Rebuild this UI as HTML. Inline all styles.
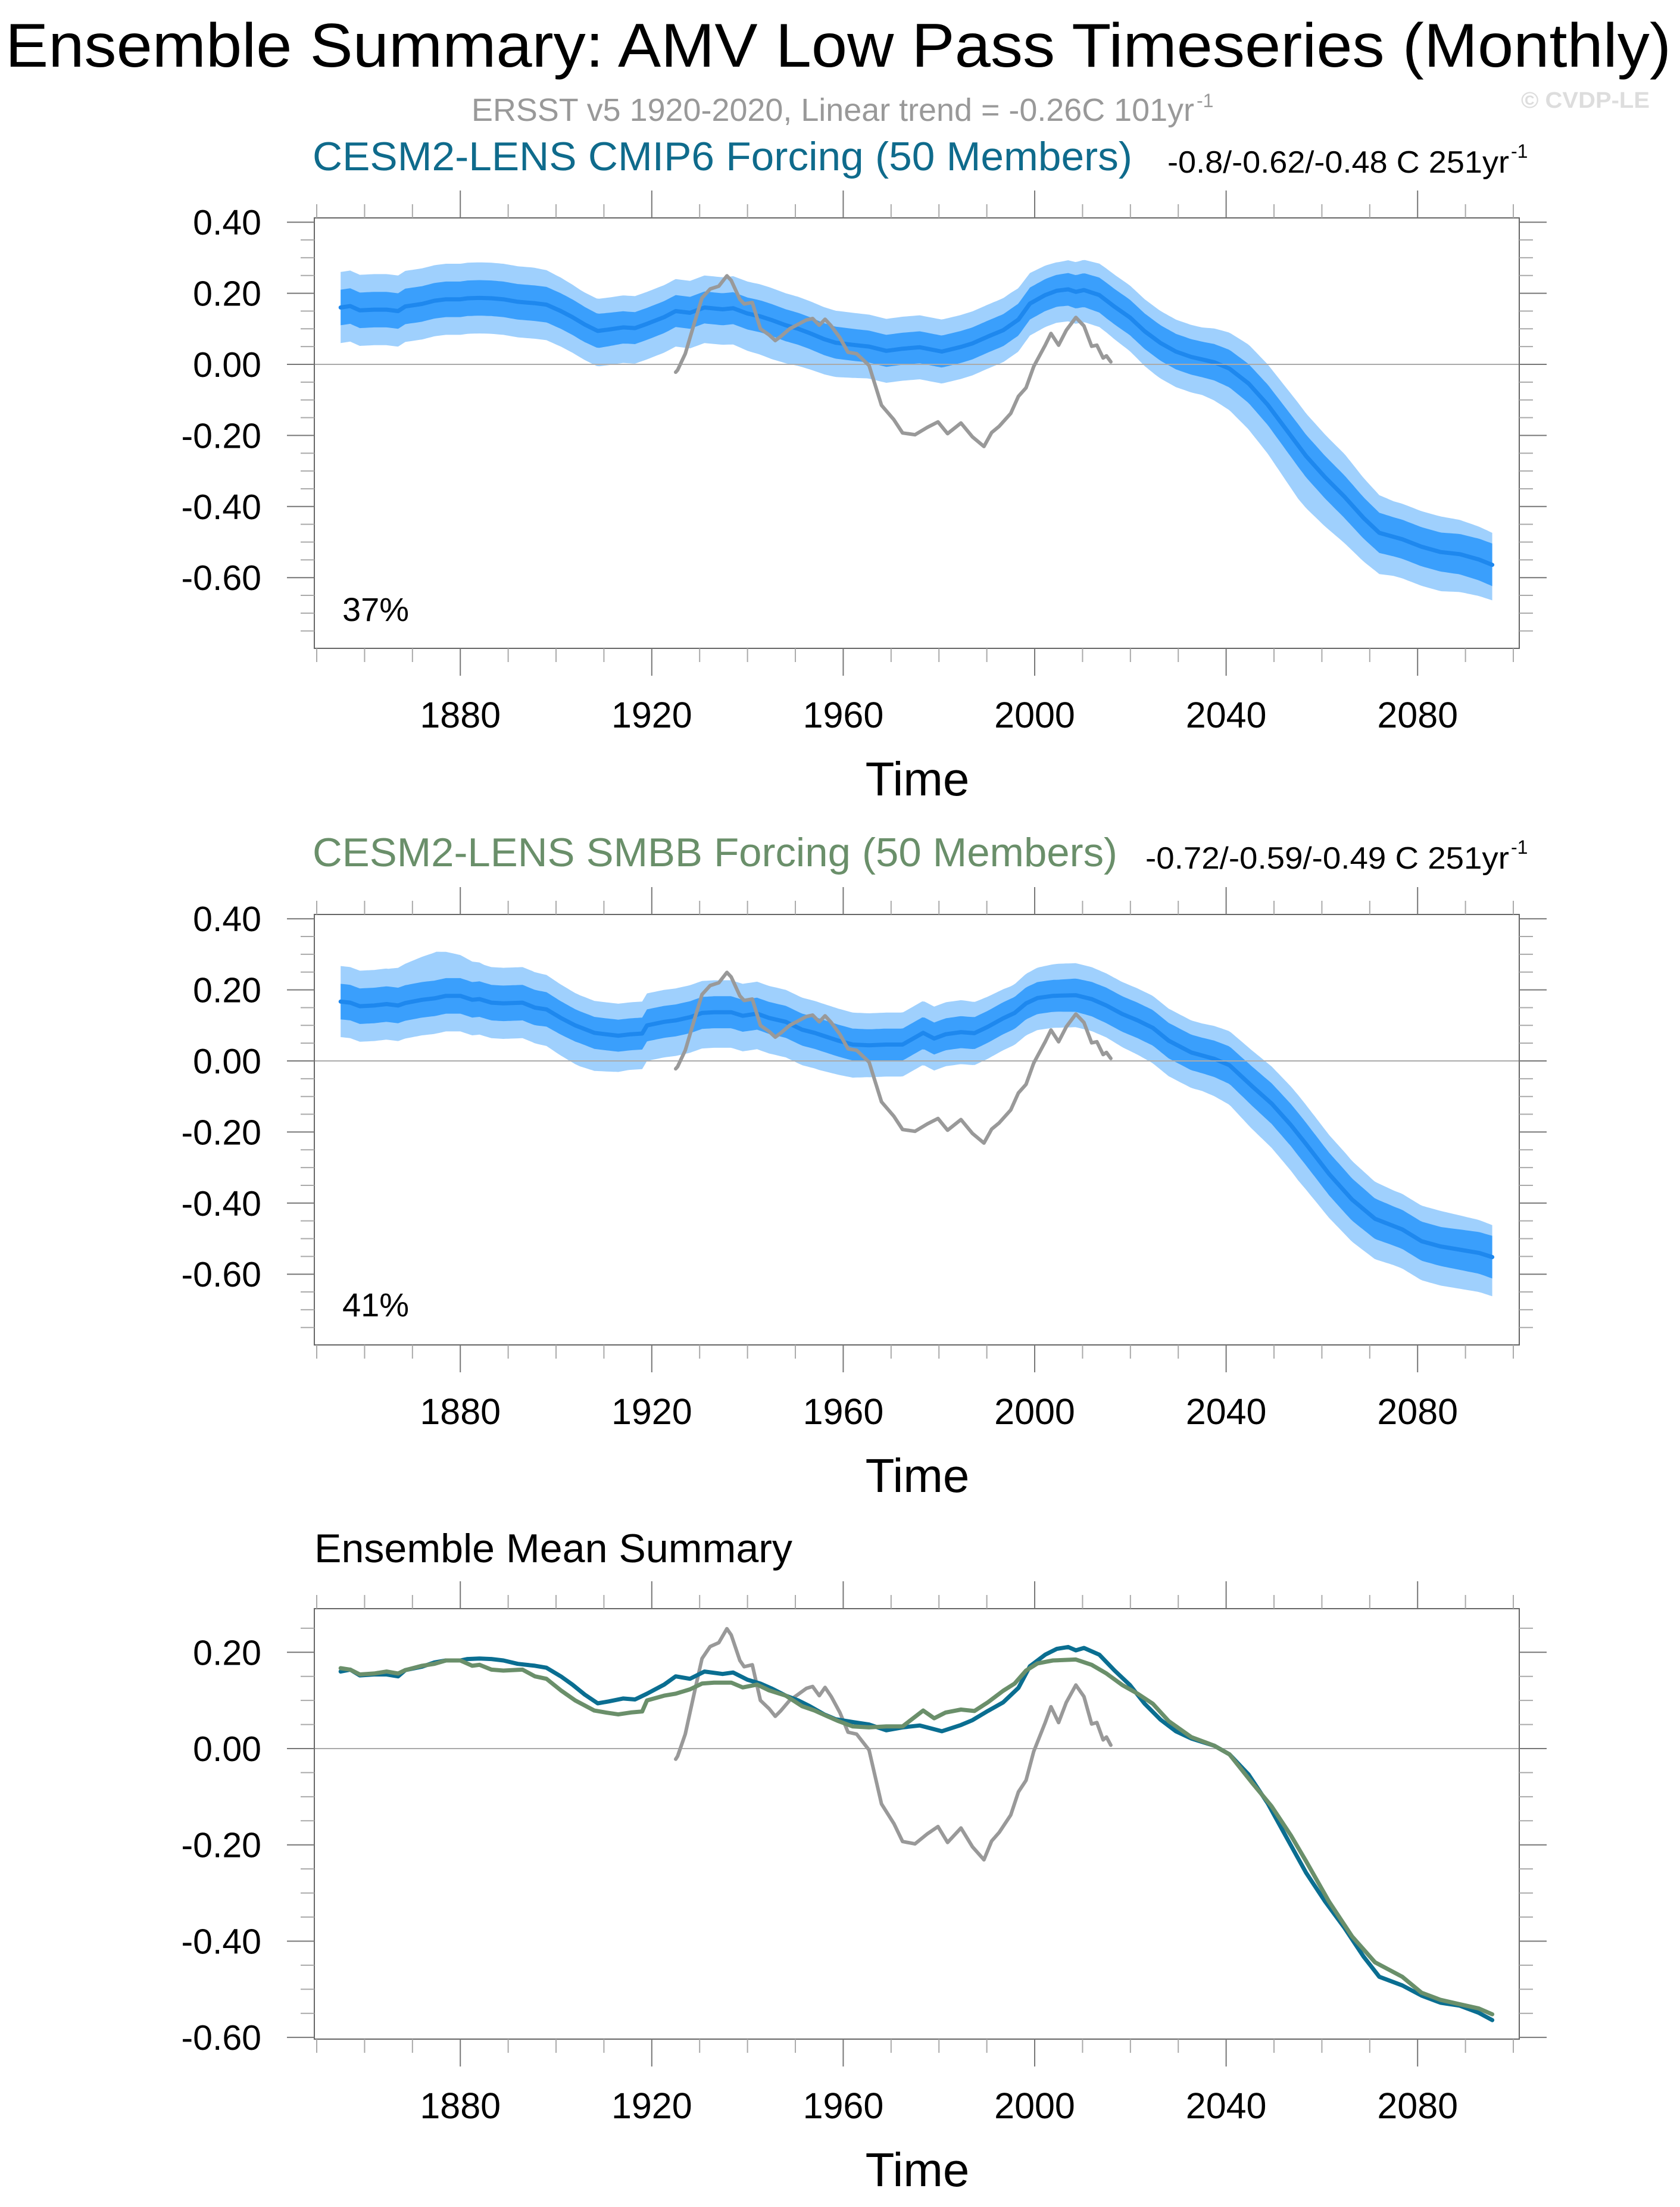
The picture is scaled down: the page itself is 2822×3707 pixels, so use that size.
<!DOCTYPE html>
<html><head><meta charset="utf-8"><style>html,body{margin:0;padding:0;background:#fff}svg{display:block}text{font-family:"Liberation Sans",Arial,sans-serif}</style></head>
<body>
<svg id="fig" width="2822" height="3707" viewBox="0 0 2822 3707" xmlns="http://www.w3.org/2000/svg">
<rect width="2822" height="3707" fill="#fff"/>
<text x="9" y="112" font-size="104" textLength="2798" lengthAdjust="spacingAndGlyphs">Ensemble Summary: AMV Low Pass Timeseries (Monthly)</text>
<text x="792" y="203" font-size="54" fill="#999" textLength="1214" lengthAdjust="spacingAndGlyphs">ERSST v5 1920-2020, Linear trend = -0.26C 101yr</text>
<text x="2010" y="180" font-size="32" fill="#999">-1</text>
<text x="2555" y="181" font-size="38" font-weight="bold" fill="#ddd" textLength="216" lengthAdjust="spacingAndGlyphs">© CVDP-LE</text>
<text x="525" y="286" font-size="68" fill="#0f6b8c" textLength="1377" lengthAdjust="spacingAndGlyphs">CESM2-LENS CMIP6 Forcing (50 Members)</text>
<text x="1961" y="290" font-size="52" textLength="574" lengthAdjust="spacingAndGlyphs">-0.8/-0.62/-0.48 C 251yr</text>
<text x="2538" y="265" font-size="32">-1</text>
<text x="525" y="1455" font-size="68" fill="#6a8f6a" textLength="1352" lengthAdjust="spacingAndGlyphs">CESM2-LENS SMBB Forcing (50 Members)</text>
<text x="1924" y="1459" font-size="52" textLength="611" lengthAdjust="spacingAndGlyphs">-0.72/-0.59/-0.49 C 251yr</text>
<text x="2538" y="1434" font-size="32">-1</text>
<text x="528" y="2624" font-size="68" textLength="803" lengthAdjust="spacingAndGlyphs">Ensemble Mean Summary</text>
<text x="575" y="1043" font-size="56">37%</text>
<text x="575" y="2211" font-size="56">41%</text>
</svg>
<script>
// ---- data ----
const meanYearsA = [1855,1857,1859,1862,1864.6,1867,1868.5,1872,1874.6,1877,1880,1881.5,1884,1886.5,1889,1892,1895.6,1898,1901,1903.4,1906,1908.7,1911,1914,1916.5,1919,1922.6,1925,1928,1931,1934.8,1937,1940,1942.7,1945,1948,1950.6,1953,1956,1958.4,1962,1965.4,1969,1972.4,1976,1980.6,1984.6,1987,1990.2,1993.4,1996.6,1999,2002.2,2004.6,2007,2008.6,2010.3,2013.5,2016.7,2019.9,2023,2026.3,2029.5,2032.7,2037.5,2040.7,2044.7,2048.7,2052.7,2056.7,2060.7,2064.7,2068.7,2072,2076.8,2080.8,2084.8,2088.8,2092.8,2095.6];
const cmip6Mean = [.160,.164,.152,.154,.154,.150,.163,.170,.179,.183,.183,.186,.187,.186,.183,.176,.172,.168,.150,.133,.112,.094,.098,.104,.102,.114,.133,.150,.145,.160,.155,.158,.143,.135,.125,.110,.100,.088,.071,.061,.055,.050,.038,.044,.048,.036,.049,.059,.078,.096,.126,.171,.195,.207,.211,.204,.209,.195,.162,.132,.093,.060,.036,.021,.006,-.012,-.054,-.114,-.186,-.258,-.318,-.372,-.432,-.474,-.492,-.513,-.528,-.534,-.549,-.564];
const meanYearsB = [1855,1857,1859,1862,1864.6,1867,1868.5,1872,1874.6,1877,1880,1882.5,1884,1886.5,1889,1893,1895.6,1898,1901,1904,1908,1910.4,1913,1915.6,1918,1919,1922.6,1925,1928,1930.5,1933,1936.6,1939,1942,1944.5,1948,1951.4,1954,1956.7,1959,1962,1965.4,1969,1972.4,1976.7,1979,1981.4,1984.6,1987.4,1990.2,1993.4,1995.8,1998.2,2000.6,2003.8,2008.6,2011.9,2015,2018.3,2021.5,2024.7,2028,2032.7,2037.5,2040.7,2045.5,2049.5,2053.5,2056.7,2061.5,2066.3,2071.1,2076.8,2080.8,2084.8,2088.8,2092.8,2095.6];
const smbbMean = [.167,.164,.154,.156,.160,.156,.163,.172,.176,.183,.183,.172,.174,.164,.162,.164,.150,.145,.121,.100,.079,.075,.071,.075,.077,.100,.110,.114,.123,.135,.137,.137,.127,.133,.121,.110,.088,.079,.067,.057,.046,.044,.046,.046,.079,.063,.075,.081,.078,.096,.120,.135,.162,.177,.183,.185,.174,.156,.132,.114,.093,.057,.024,.006,-.012,-.072,-.120,-.180,-.234,-.318,-.390,-.444,-.474,-.507,-.522,-.531,-.540,-.552];
const obsYears = [1925,1925.4,1927,1929,1930.5,1932.2,1934,1935.7,1936.6,1938.4,1939.3,1941,1942.7,1944.5,1945.8,1947,1948.8,1950.5,1952.3,1953.6,1955,1956.2,1957.5,1959.3,1961,1962.8,1965.4,1968,1970.6,1972.4,1975,1977.6,1979.8,1981.8,1984.6,1987,1989.4,1991,1992.6,1995,1996.6,1998.2,1999.8,2002.2,2003.4,2005,2006.6,2008.6,2010.3,2011.9,2013,2014.3,2015,2015.9];
const obsValues = [-.022,-.016,.030,.121,.187,.212,.220,.249,.236,.183,.170,.174,.100,.083,.067,.079,.100,.112,.125,.129,.110,.127,.108,.075,.034,.030,-.003,-.115,-.156,-.193,-.198,-.177,-.162,-.195,-.165,-.204,-.231,-.192,-.174,-.138,-.090,-.066,-.006,.054,.087,.054,.096,.132,.108,.051,.054,.018,.024,.007];
const spreadYears = [1855,1865,1875,1885,1895,1905,1915,1925,1935,1945,1955,1965,1975,1985,1995,2005,2015,2025,2035,2045,2055,2065,2075,2085,2095.6];
const innerA = [.05,.05,.05,.05,.05,.05,.045,.045,.045,.045,.045,.045,.045,.045,.045,.045,.05,.05,.05,.055,.06,.06,.055,.055,.06];
const outerUpA = [.10,.10,.10,.10,.10,.09,.09,.09,.09,.09,.09,.09,.09,.09,.09,.08,.09,.09,.09,.11,.12,.12,.10,.10,.09];
const outerDnA = [.10,.10,.10,.10,.10,.10,.10,.10,.10,.11,.10,.09,.09,.09,.09,.09,.09,.10,.10,.13,.15,.13,.11,.11,.10];
const innerB = [.05,.05,.05,.05,.05,.045,.045,.045,.045,.045,.045,.045,.045,.045,.045,.045,.05,.05,.05,.055,.06,.06,.055,.055,.06];
const outerUpB = [.10,.10,.13,.10,.10,.09,.09,.09,.09,.09,.09,.09,.09,.09,.08,.09,.09,.09,.09,.10,.11,.11,.10,.10,.09];
const outerDnB = [.10,.10,.10,.10,.10,.11,.10,.10,.10,.10,.10,.09,.09,.09,.09,.09,.09,.10,.10,.12,.13,.12,.11,.11,.11];
const yTicksMain = [0.4,0.2,0,-0.2,-0.4,-0.6];
const yTickLabelsMain = ["0.40","0.20","0.00","-0.20","-0.40","-0.60"];
const yTicksMean = [0.2,0,-0.2,-0.4,-0.6];
const yTickLabelsMean = ["0.20","0.00","-0.20","-0.40","-0.60"];
const xTicks = [1880,1920,1960,2000,2040,2080];
const xTickLabels = ["1880","1920","1960","2000","2040","2080"];

// ---- rendering ----
const NS="http://www.w3.org/2000/svg";
const svg=document.getElementById('fig');
const L=528,R=2552;
const xs=y=>L+(y-1849.5)*8.04;
function mk(t,a){const e=document.createElementNS(NS,t);for(const k in a)e.setAttribute(k,a[k]);svg.appendChild(e);return e;}
function interp(xa,ya,x){if(x<=xa[0])return ya[0];for(let i=1;i<xa.length;i++){if(x<=xa[i]){const f=(x-xa[i-1])/(xa[i]-xa[i-1]);return ya[i-1]+f*(ya[i]-ya[i-1]);}}return ya[ya.length-1];}
function pathOf(xa,ya,ys){return xa.map((x,i)=>(i?'L':'M')+xs(x).toFixed(1)+','+ys(ya[i]).toFixed(1)).join('');}

function axes(p,top,bot,ys,vmin,vmax,ticks,labels,name){
  for(let v=Math.ceil(vmin/0.05)*0.05;v<=vmax+1e-9;v+=0.05){
    const yy=ys(v);if(yy<top-1||yy>bot+1)continue;
    const major=ticks.some(t=>Math.abs(t-v)<1e-6);
    const len=major?46:23,col=major?'#777':'#aaa';
    let e=mk('line',{x1:L-len,x2:L,y1:yy,y2:yy,stroke:col,'stroke-width':2});
    
    
    e=mk('line',{x1:R,x2:R+len,y1:yy,y2:yy,stroke:col,'stroke-width':2});
    
    
  }
  ticks.forEach((t,i)=>{
    const e=mk('text',{x:439,y:ys(t)+21,'font-size':59,'text-anchor':'end'});e.textContent=labels[i];
    
    
  });
  for(let yr=1850;yr<=2100;yr+=10){
    const major=(yr-1880)%40===0;const len=major?46:23,col=major?'#777':'#aaa';const xx=xs(yr);
    let e=mk('line',{x1:xx,x2:xx,y1:top-len,y2:top,stroke:col,'stroke-width':2});
    
    
    e=mk('line',{x1:xx,x2:xx,y1:bot,y2:bot+len,stroke:col,'stroke-width':2});
    
    
  }
  xTicks.forEach((t,i)=>{
    const e=mk('text',{x:xs(t),y:bot+133,'font-size':61,'text-anchor':'middle'});e.textContent=xTickLabels[i];
    
    
  });
  const tl=mk('text',{x:1541,y:bot+247,'font-size':80,'text-anchor':'middle'});tl.textContent='Time';
  
  
}
function frame(top,bot,ys,name){
  let z=mk('line',{x1:L,x2:R,y1:ys(0),y2:ys(0),stroke:'#aaa','stroke-width':2});
  
  
  const f=mk('rect',{x:L,y:top,width:R-L,height:bot-top,fill:'none',stroke:'#666','stroke-width':2});
  
  
}
function band(mY,mV,up,dn,ys,col,name){
  const xsArr=[];for(let y=1855;y<=2095.6;y+=0.5)xsArr.push(y);xsArr.push(2095.6);
  const u=xsArr.map(x=>interp(mY,mV,x)+interp(spreadYears,up,x));
  const d=xsArr.map(x=>interp(mY,mV,x)-interp(spreadYears,dn,x));
  let p=pathOf(xsArr,u,ys);
  for(let i=xsArr.length-1;i>=0;i--)p+='L'+xs(xsArr[i]).toFixed(1)+','+ys(d[i]).toFixed(1);
  const e=mk('path',{d:p+'Z',fill:col,stroke:'none'});
  
  
}
function line(xa,ya,ys,col,w,name){
  const e=mk('path',{d:pathOf(xa,ya,ys),fill:'none',stroke:col,'stroke-width':w,'stroke-linejoin':'round','stroke-linecap':'round'});
  
  
}
function ensPanel(top,zero,unit,mY,mV,inner,oU,oD,name){
  const bot=top+723;const ys=v=>zero-v*unit;
  band(mY,mV,oU,oD,ys,'#9fd0fd',name+'-outer-spread');
  band(mY,mV,inner,inner,ys,'#3a9ffc',name+'-inner-spread');
  line(mY,mV,ys,'#1e88ee',7,name+'-ensemble-mean');
  frame(top,bot,ys,name);
  line(obsYears,obsValues,ys,'#999',6,name+'-ersst-obs');
  axes(0,top,bot,ys,(zero-bot)/unit,(zero-top)/unit,yTicksMain,yTickLabelsMain,name);
}
ensPanel(366,612,597,meanYearsA,cmip6Mean,innerA,outerUpA,outerDnA,'panel1');
ensPanel(1536,1782,597,meanYearsB,smbbMean,innerB,outerUpB,outerDnB,'panel2');
(function(){
  const top=2702,bot=3425,zero=2937,unit=808.6;const ys=v=>zero-v*unit;
  frame(top,bot,ys,'panel3');
  line(obsYears,obsValues,ys,'#999',6,'panel3-ersst-obs');
  line(meanYearsA,cmip6Mean,ys,'#0a6e91',7,'panel3-cmip6-mean');
  line(meanYearsB,smbbMean,ys,'#6a8f6a',7,'panel3-smbb-mean');
  axes(0,top,bot,ys,(zero-bot)/unit,(zero-top)/unit,yTicksMean,yTickLabelsMean,'panel3');
})();
</script>
</body></html>
